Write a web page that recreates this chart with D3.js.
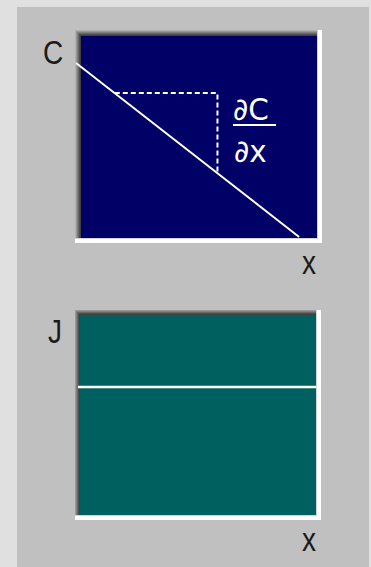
<!DOCTYPE html>
<html>
<head>
<meta charset="utf-8">
<script src="https://cdn.jsdelivr.net/npm/d3@7"></script>
<style>
  body { margin: 0; background: #e0e0e0; }
  svg { display: block; }
  text { font-family: "Liberation Sans", Arial, sans-serif; fill: #1a1a1a; }
  text.frac { font-family: "DejaVu Sans", sans-serif; }
</style>
</head>
<body>
<div id="chart"></div>
<script>
// concentration profile (top) and flux (bottom), in plot units 0..1
var concX = [0, 0.926];
var concC = [0.866, 0];
var tangentX = [0.161, 0.587];
var tangentC = [0.716, 0.323];
var fluxX = [0, 1];
var fluxJ = [0.64, 0.64];
var topLabels = ["C", "x"];
var bottomLabels = ["J", "x"];

var width = 371, height = 567;

var svg = d3.select('#chart')
  .append('svg')
  .attr('width', width)
  .attr('height', height);

// grey window panel
svg.append('rect')
  .attr('x', 17).attr('y', 7)
  .attr('width', 352).attr('height', 560)
  .attr('fill', '#c0c0c0');

var shades = ['#b0b0b0', '#989898', '#808080', '#686868', '#505050', '#404040'];

// sunken 3d box, returns the inner plot rectangle
function drawBox(x0, y0, w, h, tl, fill) {
  var g = svg.append('g');
  g.append('rect').attr('x', x0).attr('y', y0).attr('width', w).attr('height', h).attr('fill', '#ffffff');
  g.append('rect').attr('x', x0).attr('y', y0).attr('width', w - 4).attr('height', h - 4).attr('fill', '#d4d4d4');
  for (var i = 0; i < tl; i++) {
    g.append('rect')
      .attr('x', x0 + i).attr('y', y0 + i)
      .attr('width', w - 5 - i).attr('height', h - 5 - i)
      .attr('fill', shades[shades.length - tl + i]);
  }
  var inner = { x: x0 + tl, y: y0 + tl, w: w - 5 - tl, h: h - 5 - tl };
  g.append('rect')
    .attr('x', inner.x).attr('y', inner.y)
    .attr('width', inner.w).attr('height', inner.h)
    .attr('fill', fill);
  return inner;
}

function label(txt, x, y) {
  svg.append('text')
    .attr('transform', 'translate(' + x + ',' + y + ') scale(0.85,1)')
    .attr('font-size', 33)
    .text(txt);
}

// ---- top plot: C vs x ----
var box1 = drawBox(75, 30, 247, 213, 6, '#000066');

var xTop = d3.scaleLinear().domain([0, 1]).range([76, box1.x + box1.w]);
var yTop = d3.scaleLinear().domain([0, 1]).range([box1.y + box1.h - 1, box1.y]);

var line = d3.line()
  .x(function (d) { return d[0]; })
  .y(function (d) { return d[1]; });

svg.append('path')
  .attr('d', line(concX.map(function (v, i) { return [xTop(v), yTop(concC[i])]; })))
  .attr('stroke', '#ffffff')
  .attr('stroke-width', 2)
  .attr('fill', 'none');

// dashed tangent triangle
svg.append('path')
  .attr('d', line([
    [xTop(tangentX[0]), yTop(tangentC[0])],
    [xTop(tangentX[1]), yTop(tangentC[0])],
    [xTop(tangentX[1]), yTop(tangentC[1])]
  ]))
  .attr('stroke', '#ffffff')
  .attr('stroke-width', 2)
  .attr('stroke-dasharray', '5,3')
  .attr('fill', 'none');

// dC/dx fraction
svg.append('text')
  .attr('class', 'frac')
  .attr('transform', 'translate(233,120) scale(0.95,1)')
  .attr('font-size', 31)
  .style('fill', '#ffffff')
  .text('\u2202C');
svg.append('rect')
  .attr('x', 233).attr('y', 124)
  .attr('width', 43).attr('height', 2)
  .attr('fill', '#ffffff');
svg.append('text')
  .attr('class', 'frac')
  .attr('transform', 'translate(234,162) scale(0.95,1)')
  .attr('font-size', 31)
  .style('fill', '#ffffff')
  .text('\u2202x');

label(topLabels[0], 43, 64);
label(topLabels[1], 302, 274);

// ---- bottom plot: J vs x ----
var box2 = drawBox(75, 310, 246, 210, 5, '#006060');

var xBot = d3.scaleLinear().domain([0, 1]).range([box2.x - 2, box2.x + box2.w]);
var yBot = d3.scaleLinear().domain([0, 1]).range([box2.y + box2.h, box2.y]);

svg.append('path')
  .attr('d', line(fluxX.map(function (v, i) { return [xBot(v), yBot(fluxJ[i])]; })))
  .attr('stroke', '#ffffff')
  .attr('stroke-width', 2.5)
  .attr('fill', 'none');

label(bottomLabels[0], 48, 343);
label(bottomLabels[1], 302, 551);
</script>
</body>
</html>
